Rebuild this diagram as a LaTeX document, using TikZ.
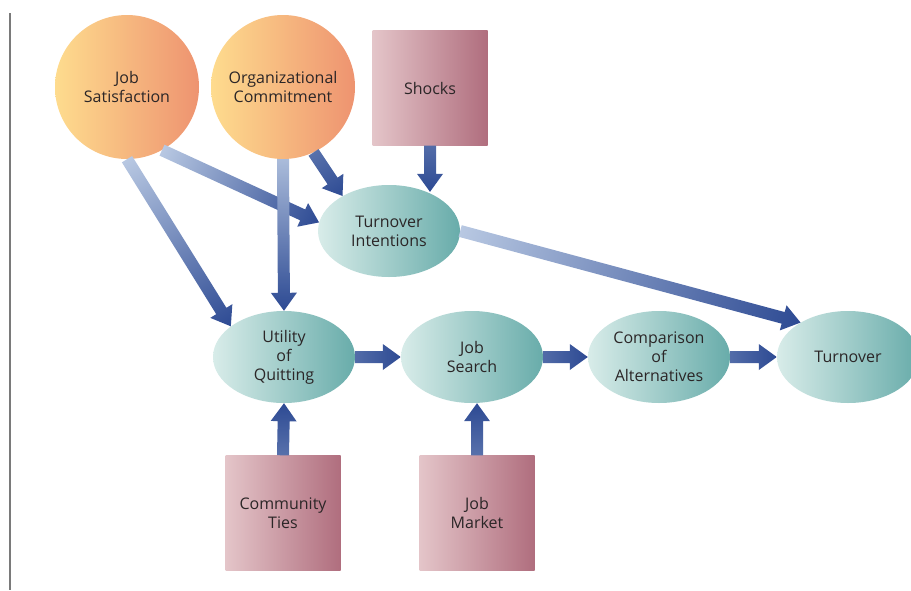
\documentclass[tikz,border=0pt]{standalone}
\usepackage{fontspec}
\setmainfont{Open Sans}
\usetikzlibrary{shapes.geometric,calc}

\definecolor{textgray}{HTML}{2B2627}
\definecolor{factorleft}{HTML}{FEDC8E}
\definecolor{factorright}{HTML}{EE9370}
\definecolor{eventleft}{HTML}{E4C5C9}
\definecolor{eventright}{HTML}{B06E7E}
\definecolor{stageleft}{HTML}{D8ECE9}
\definecolor{stageright}{HTML}{68ACAA}
\definecolor{flowlight}{HTML}{B8C8E2}
\definecolor{flowdark}{HTML}{2D4A93}
\definecolor{rulegray}{HTML}{7A7A7A}

\tikzset{
  box/.style={inner sep=0pt, align=center, text=textgray,
    font=\fontsize{16}{19}\selectfont},
  factor/.style={box, circle, minimum size=144pt,
    left color=factorleft, right color=factorright},
  event/.style={box, rectangle, minimum width=115pt, minimum height=115pt,
    left color=eventleft, right color=eventright},
  stage/.style={box, ellipse, minimum width=142pt, minimum height=92pt,
    left color=stageleft, right color=stageright},
}

% fat shaded arrow from #1 to #2
\newcommand\flow[2]{%
  \path let \p1=#1, \p2=#2 in \pgfextra{%
    \pgfmathsetmacro\fa{atan2(\y2-\y1,\x2-\x1)}\xdef\flowang{\fa}%
    \pgfmathsetmacro\fl{veclen(\x2-\x1,\y2-\y1)}\xdef\flowlen{\fl}%
    \pgfmathtruncatemacro\fm{min(100,\fl*0.6)}\xdef\flowmix{\fm}};
  \begin{scope}[transform canvas={shift={#1},rotate=\flowang}]
    \shade[x=1pt,y=1pt,left color=flowlight!\flowmix!flowdark,right color=flowdark]
      (0,-6) -- (\flowlen-18,-6) -- (\flowlen-18,-13) -- (\flowlen,0)
      -- (\flowlen-18,13) -- (\flowlen-18,6) -- (0,6) -- cycle;
  \end{scope}}

\begin{document}
\begin{tikzpicture}[x=1pt,y=-1pt]
  \useasboundingbox (0,0) rectangle (911,590);
  \draw[rulegray, line width=1.2pt] (10,13) -- (10,590);

  % antecedents
  \node[factor] (js) at (127,87) {Job\\Satisfaction};
  \node[factor] (oc) at (283,87) {Organizational\\Commitment};
  \node[event] (shocks) at (430,88) {Shocks};

  % process
  \node[stage] (ti) at (389,231) {Turnover\\Intentions};
  \node[stage] (uq) at (284,357) {Utility\\of\\Quitting};
  \node[stage] (search) at (472,357) {Job\\Search};
  \node[stage] (comp) at (659,357) {Comparison\\of\\Alternatives};
  \node[stage] (turnover) at (848,357) {Turnover};

  \node[event] (ties) at (283,513) {Community\\Ties};
  \node[event] (market) at (477,513) {Job\\Market};

  % arrows
  \flow{(js.south)}{(uq.150)}
  \flow{(js.-61)}{(ti.173)}
  \flow{(oc.south)}{(uq.north)}
  \flow{(oc.-65)}{(ti.143)}
  \flow{(shocks.south)}{(shocks.south |- ti.46)}
  \flow{(ti.east)}{(turnover.144)}
  \flow{(uq.east)}{(search.west)}
  \flow{(search.east)}{(comp.west)}
  \flow{(comp.east)}{(turnover.west)}
  \flow{(ties.north)}{(uq.south)}
  \flow{(market.north)}{(market.north |- search.south)}
\end{tikzpicture}
\end{document}
